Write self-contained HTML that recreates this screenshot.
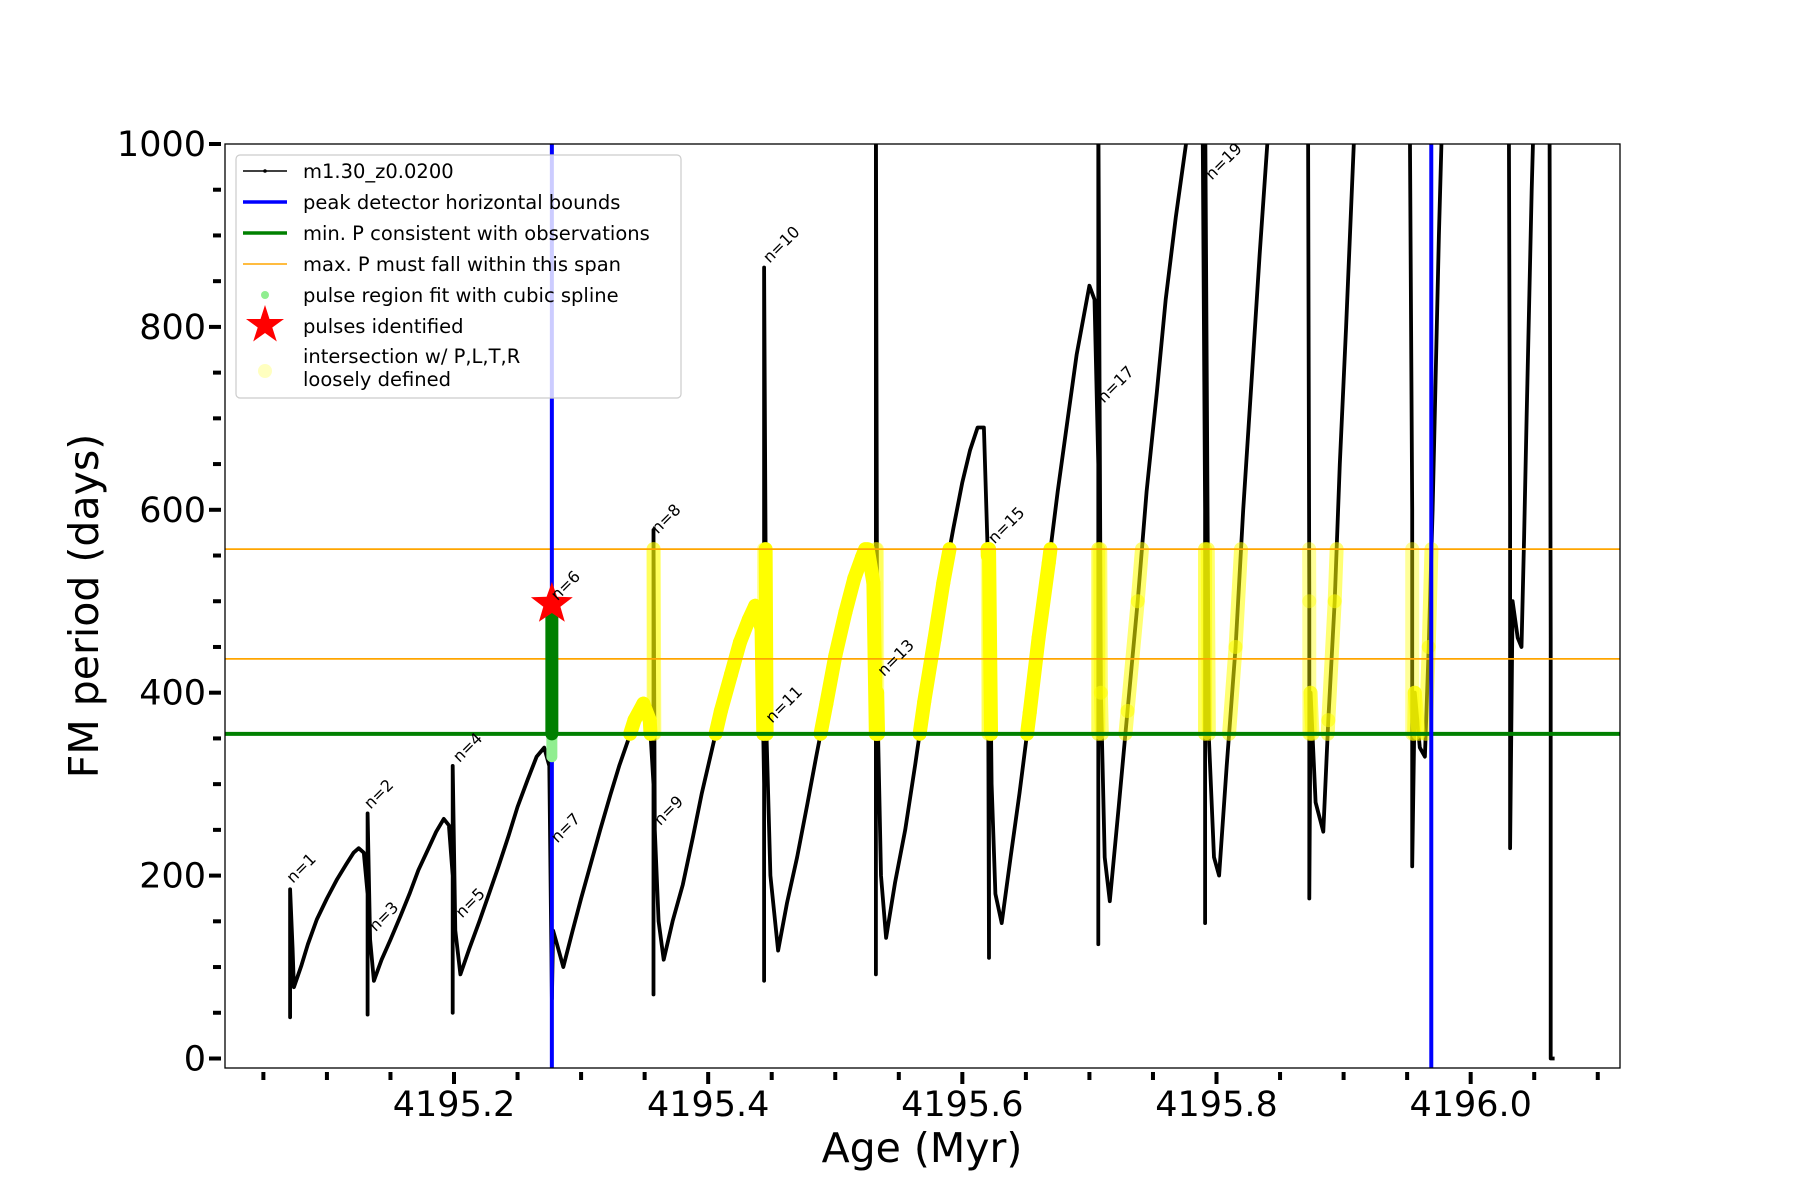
<!DOCTYPE html>
<html><head><meta charset="utf-8"><style>
body{margin:0;background:#fff}
svg{display:block;font-family:"DejaVu Sans","Liberation Sans",sans-serif}
</style></head><body>
<svg id="chart" width="1800" height="1200" viewBox="0 0 1800 1200">
<defs><clipPath id="plotclip"><rect x="225" y="144" width="1395" height="924"/></clipPath></defs>
<rect x="0" y="0" width="1800" height="1200" fill="#fff"/>
<g id="plot" clip-path="url(#plotclip)"></g>
<rect x="225" y="144" width="1395" height="924" fill="none" stroke="#000" stroke-width="1.3"/>
<g id="axes"></g>
<text x="922" y="1162" font-size="41" text-anchor="middle">Age (Myr)</text>
<text transform="translate(98,606) rotate(-90)" font-size="41" text-anchor="middle">FM period (days)</text>
<g>
<rect x="236" y="155" width="445" height="243" rx="4" fill="#fff" fill-opacity="0.8" stroke="#ccc" stroke-width="1.2"/>
<g font-size="19.5" fill="#000">
<g><line x1="243" y1="171" x2="287" y2="171" stroke="#000" stroke-width="1.5"/><circle cx="265" cy="171" r="1.8"/><text x="303" y="178">m1.30_z0.0200</text></g>
<g><line x1="243" y1="202" x2="287" y2="202" stroke="#00f" stroke-width="3.5"/><text x="303" y="209">peak detector horizontal bounds</text></g>
<g><line x1="243" y1="233" x2="287" y2="233" stroke="green" stroke-width="3.5"/><text x="303" y="240">min. P consistent with observations</text></g>
<g><line x1="243" y1="264" x2="287" y2="264" stroke="orange" stroke-width="1.6"/><text x="303" y="271">max. P must fall within this span</text></g>
<g><circle cx="265" cy="295" r="4" fill="lightgreen"/><text x="303" y="302">pulse region fit with cubic spline</text></g>
<g><polygon points="265,305 269.5,319 284,319 272.3,327.5 276.8,341.5 265,333 253.2,341.5 257.7,327.5 246,319 260.5,319" fill="red"/><text x="303" y="333">pulses identified</text></g>
<g><circle cx="265" cy="371" r="7" fill="#ffffb0" fill-opacity="0.8"/><text x="303" y="363">intersection w/ P,L,T,R</text><text x="303" y="386">loosely defined</text></g>
</g></g>
</svg>
<script>
const trackAges=[4195.071,4195.071,4195.071,4195.073,4195.074,4195.080,4195.085,4195.092,4195.100,4195.108,4195.115,4195.121,4195.125,4195.129,4195.132,4195.132,4195.132,
4195.134,4195.137,4195.143,4195.150,4195.158,4195.165,4195.172,4195.180,4195.186,4195.192,4195.196,4195.199,4195.199,4195.199,
4195.201,4195.205,4195.212,4195.220,4195.228,4195.235,4195.243,4195.250,4195.258,4195.265,4195.271,4195.275,4195.277,4195.278,4195.280,4195.286,
4195.293,4195.300,4195.308,4195.315,4195.323,4195.330,4195.337,4195.342,4195.349,4195.354,4195.357,4195.357,4195.357,4195.358,4195.361,4195.365,
4195.372,4195.380,4195.388,4195.395,4195.403,4195.410,4195.418,4195.425,4195.432,4195.437,4195.442,4195.444,4195.444,4195.444,4195.446,4195.449,4195.455,
4195.462,4195.470,4195.478,4195.485,4195.493,4195.500,4195.508,4195.515,4195.521,4195.525,4195.530,4195.532,4195.532,4195.532,4195.533,4195.536,4195.540,
4195.547,4195.555,4195.563,4195.570,4195.578,4195.585,4195.593,4195.600,4195.606,4195.612,4195.617,4195.620,4195.621,4195.621,4195.623,4195.626,4195.631,
4195.638,4195.645,4195.653,4195.660,4195.668,4195.675,4195.683,4195.690,4195.696,4195.700,4195.704,4195.707,4195.707,4195.707,4195.709,4195.712,4195.716,
4195.723,4195.730,4195.738,4195.745,4195.753,4195.760,4195.768,4195.776,4195.780,
4195.789,4195.791,4195.791,4195.791,4195.794,4195.798,4195.802,4195.808,4195.815,4195.821,4195.828,4195.834,4195.840,4195.843,
4195.872,4195.873,4195.873,4195.874,4195.878,4195.884,4195.888,4195.893,4195.897,4195.902,4195.908,4195.910,
4195.952,4195.954,4195.954,4195.956,4195.960,4195.964,4195.967,4195.970,4195.975,4195.978,
4196.030,4196.031,4196.031,4196.033,4196.037,4196.040,4196.042,4196.044,4196.048,4196.050,
4196.062,4196.063,4196.063,4196.066];
const trackPeriods=[155,45,185,120,78,102,125,152,175,196,212,225,230,225,180,48,268,
130,85,108,130,156,180,206,230,248,262,255,200,50,320,
140,92,120,150,182,210,244,275,305,330,340,320,65,140,130,100,
138,175,215,250,288,320,348,370,388,370,300,70,578,250,150,108,
150,190,242,290,338,380,420,455,480,495,470,300,85,865,350,200,118,
170,220,278,330,388,440,488,525,548,562,520,350,92,1050,400,200,132,
192,250,322,390,458,520,580,630,665,690,690,550,110,560,300,180,148,
220,290,378,460,542,620,700,770,815,845,830,650,125,1050,400,220,172,
275,380,500,620,728,830,920,1000,1050,
1050,600,148,1050,350,220,200,320,450,600,750,880,1000,1050,
1050,500,175,400,280,248,370,500,650,800,1000,1050,
1050,600,210,400,340,330,450,600,900,1050,
1050,600,230,500,460,450,570,700,950,1050,
1050,460,0,0];
const boundAges=[4195.277,4195.969];
const minPeriod=[355];
const maxPeriodSpan=[437,557];
const pulseAges=[4195.277];
const pulsePeriods=[497];
const splineLow=[330,355];
const splineHigh=[355,497];
const labelNames=["n=1","n=2","n=3","n=4","n=5","n=6","n=7","n=8","n=9","n=10","n=11","n=13","n=15","n=17","n=19"];
const labelAges=[4195.071,4195.132,4195.136,4195.202,4195.204,4195.279,4195.279,4195.358,4195.360,4195.446,4195.448,4195.536,4195.623,4195.709,4195.794];
const labelPeriods=[191,272,138,323,153,500,235,573,254,869,366,417,562,716,960];
const xTickValues=[4195.2,4195.4,4195.6,4195.8,4196.0];
const xTickLabels=["4195.2","4195.4","4195.6","4195.8","4196.0"];
const yTickValues=[0,200,400,600,800,1000];
const yTickLabels=["0","200","400","600","800","1000"];

const X0=225,X1=1620,Y0=1068,Y1=144,xmin=4195.0198,xmax=4196.1175,ymin=-10.4,ymax=1000;
const sx=v=>X0+(v-xmin)/(xmax-xmin)*(X1-X0);
const sy=v=>Y0-(v-ymin)/(ymax-ymin)*(Y0-Y1);
const NS="http://www.w3.org/2000/svg";
const plot=document.getElementById('plot'),axes=document.getElementById('axes');
function mk(tag,attrs,parent){const e=document.createElementNS(NS,tag);for(const k in attrs)e.setAttribute(k,attrs[k]);parent.appendChild(e);return e;}

// track
let d='';
for(let i=0;i<trackAges.length;i++)d+=(i?'L':'M')+sx(trackAges[i]).toFixed(1)+','+sy(trackPeriods[i]).toFixed(1);
const tr=mk('path',{d:d,fill:'none',stroke:'#000','stroke-width':3.8,'stroke-linejoin':'round'},plot);



// yellow intersection highlights (drawn over the track)
const yg=mk('g',{},plot);


const lo=minPeriod[0],hi=maxPeriodSpan[1];
for(let i=0;i<trackAges.length-1;i++){
  let a0=trackAges[i],p0=trackPeriods[i],a1=trackAges[i+1],p1=trackPeriods[i+1];
  if(a0<4195.33||a0>boundAges[1])continue;
  const pl=Math.max(Math.min(p0,p1),lo),ph=Math.min(Math.max(p0,p1),hi);
  if(pl>=ph)continue;
  const t=p=>(p1===p0)?0:(p-p0)/(p1-p0);
  const ta=Math.max(0,Math.min(1,t(p0<p1?pl:ph))),tb=Math.max(0,Math.min(1,t(p0<p1?ph:pl)));
  const vertical=Math.abs(a1-a0)<0.0015;
  const late=a0>4195.69;
  const op=vertical?0.4:(late?0.55:1);
  const seg=mk('line',{x1:sx(a0+(a1-a0)*ta),y1:sy(p0+(p1-p0)*ta),x2:sx(a0+(a1-a0)*tb),y2:sy(p0+(p1-p0)*tb),stroke:'#ffff00','stroke-width':14,'stroke-linecap':'round','stroke-opacity':op},yg);
  
  
}

// horizontal lines
const gl=mk('line',{x1:X0,x2:X1,y1:sy(minPeriod[0]),y2:sy(minPeriod[0]),stroke:'green','stroke-width':4},plot);


maxPeriodSpan.forEach(v=>{
  const l=mk('line',{x1:X0,x2:X1,y1:sy(v),y2:sy(v),stroke:'orange','stroke-width':1.8},plot);
  
  
});
// blue bounds
boundAges.forEach(v=>{
  const l=mk('line',{x1:sx(v),x2:sx(v),y1:Y1,y2:Y0,stroke:'#00f','stroke-width':4},plot);
  
  
});
// spline region
const s1=mk('line',{x1:sx(pulseAges[0]),x2:sx(pulseAges[0]),y1:sy(splineLow[0]),y2:sy(splineLow[1]),stroke:'lightgreen','stroke-width':11,'stroke-linecap':'round'},plot);


const s2=mk('line',{x1:sx(pulseAges[0]),x2:sx(pulseAges[0]),y1:sy(splineHigh[0]),y2:sy(splineHigh[1]),stroke:'green','stroke-width':13,'stroke-linecap':'round'},plot);


// star
pulseAges.forEach((a,i)=>{
  const cx=sx(a),cy=sy(pulsePeriods[i]),R=22,r=9;let pts=[];
  for(let k=0;k<10;k++){const ang=-Math.PI/2+k*Math.PI/5,rr=k%2?r:R;pts.push((cx+rr*Math.cos(ang)).toFixed(1)+','+(cy+rr*Math.sin(ang)).toFixed(1));}
  const st=mk('polygon',{points:pts.join(' '),fill:'red'},plot);
  
  
});
// labels
labelNames.forEach((n,i)=>{
  const x=sx(labelAges[i])+3,y=sy(labelPeriods[i]);
  const t=mk('text',{x:x,y:y,'font-size':16,transform:`rotate(-45 ${x} ${y})`},plot);
  t.textContent=n;
  
  
});
// ticks
for(let v=4195.05;v<4196.12;v+=0.05){
  const major=xTickValues.some(m=>Math.abs(m-v)<1e-6);
  const x=sx(v);
  const tk=mk('line',{x1:x,x2:x,y1:Y0+4,y2:Y0+(major?16:12),stroke:'#000','stroke-width':4},axes);
  
  
}
xTickValues.forEach((v,i)=>{
  const t=mk('text',{x:sx(v),y:1116,'font-size':35,'text-anchor':'middle'},axes);
  t.textContent=xTickLabels[i];
  
  
});
for(let v=0;v<=1000;v+=50){
  const major=v%200===0;const y=sy(v);
  const tk=mk('line',{x1:X0-4,x2:X0-(major?16:12),y1:y,y2:y,stroke:'#000','stroke-width':4},axes);
  
  
}
yTickValues.forEach((v,i)=>{
  const t=mk('text',{x:206,y:sy(v)+12,'font-size':35,'text-anchor':'end'},axes);
  t.textContent=yTickLabels[i];
  
  
});
</script>
</body></html>
